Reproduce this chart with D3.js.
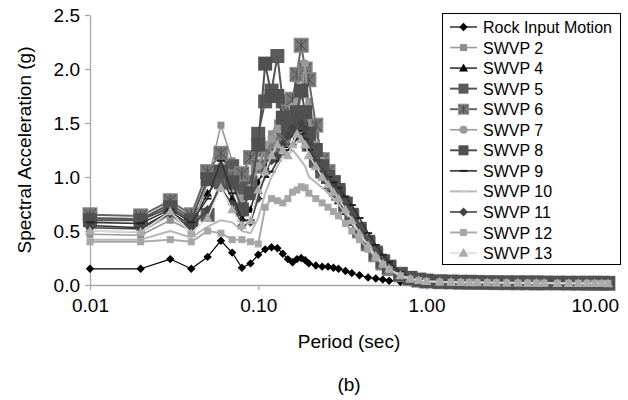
<!DOCTYPE html>
<html>
<head>
<meta charset="utf-8">
<script src="https://cdn.jsdelivr.net/npm/d3@7"></script>
<style>
    body { margin: 0; background: #fff; }
    svg text { font-family: Arial, "Liberation Sans", sans-serif; fill: #000; }
</style>
</head>
<body>
<div id="chart"></div>
<script>

// periods (sec) shared by every series
const periods = [0.01, 0.02, 0.03, 0.04, 0.05, 0.06, 0.07, 0.08, 0.09, 0.10,
    0.11, 0.12, 0.13, 0.14, 0.15, 0.16, 0.17, 0.18, 0.19, 0.20,
    0.22, 0.24, 0.26, 0.28, 0.30, 0.33, 0.36, 0.40, 0.45, 0.50,
    0.55, 0.60, 0.70, 0.80, 0.90, 1.0,
    1.2, 1.4, 1.6, 1.8, 2.0, 2.3, 2.6, 3.0, 3.5, 4.0, 4.5, 5.0, 6.0, 7.0, 8.0, 9.0, 10, 11, 12];

// spectral acceleration (g)
const rockInput = [0.15, 0.15, 0.24, 0.15, 0.26, 0.41, 0.30, 0.16, 0.20, 0.28,
    0.33, 0.35, 0.34, 0.29, 0.24, 0.21, 0.24, 0.25, 0.23, 0.20,
    0.18, 0.17, 0.17, 0.16, 0.15, 0.13, 0.11, 0.09, 0.07, 0.06,
    0.05, 0.04, 0.03, 0.025, 0.02, 0.02,
    0.018, 0.016, 0.015, 0.014, 0.013, 0.012, 0.011, 0.010, 0.010, 0.009, 0.009, 0.008, 0.008, 0.007, 0.007, 0.007, 0.006, 0.006, 0.006];
const swvp2 = [0.47, 0.46, 0.60, 0.50, 0.95, 1.48, 1.15, 0.75, 0.85, 1.10,
    1.25, 1.40, 1.50, 1.55, 1.60, 1.75, 1.90, 2.05, 1.95, 1.70,
    1.40, 1.20, 1.05, 0.95, 0.85, 0.72, 0.62, 0.50, 0.38, 0.28,
    0.21, 0.16, 0.10, 0.065, 0.048, 0.038,
    0.030, 0.028, 0.026, 0.025, 0.024, 0.023, 0.022, 0.021, 0.020, 0.020, 0.019, 0.019, 0.018, 0.018, 0.017, 0.017, 0.017, 0.016, 0.016];
const swvp4 = [0.55, 0.53, 0.68, 0.55, 0.85, 1.00, 0.80, 0.62, 0.70, 0.95,
    1.10, 1.25, 1.30, 1.35, 1.30, 1.40, 1.50, 1.45, 1.35, 1.20,
    1.10, 1.00, 0.92, 0.85, 0.78, 0.68, 0.58, 0.47, 0.36, 0.27,
    0.20, 0.15, 0.09, 0.058, 0.044, 0.035,
    0.029, 0.027, 0.026, 0.025, 0.024, 0.022, 0.021, 0.021, 0.020, 0.019, 0.019, 0.018, 0.018, 0.017, 0.017, 0.017, 0.016, 0.016, 0.016];
const swvp5 = [0.62, 0.61, 0.75, 0.62, 0.65, 0.95, 1.10, 0.90, 0.95, 1.40,
    1.70, 1.80, 2.12, 1.70, 1.55, 1.45, 1.50, 1.60, 1.55, 1.30,
    1.15, 1.05, 1.00, 0.92, 0.85, 0.72, 0.62, 0.50, 0.38, 0.28,
    0.20, 0.15, 0.09, 0.058, 0.044, 0.035,
    0.030, 0.028, 0.027, 0.025, 0.024, 0.023, 0.022, 0.021, 0.021, 0.020, 0.020, 0.019, 0.019, 0.018, 0.018, 0.018, 0.017, 0.017, 0.017];
const swvp6 = [0.65, 0.64, 0.78, 0.65, 1.05, 1.22, 1.00, 1.03, 1.18, 1.10,
    1.25, 1.20, 1.30, 1.35, 1.60, 1.72, 1.95, 2.22, 2.00, 1.90,
    1.48, 1.16, 1.05, 0.95, 0.85, 0.75, 0.63, 0.50, 0.38, 0.28,
    0.21, 0.16, 0.10, 0.062, 0.046, 0.037,
    0.030, 0.028, 0.026, 0.025, 0.024, 0.023, 0.022, 0.021, 0.020, 0.020, 0.019, 0.019, 0.018, 0.018, 0.017, 0.017, 0.017, 0.016, 0.016];
const swvp7 = [0.50, 0.49, 0.65, 0.50, 0.95, 1.10, 0.90, 0.80, 0.90, 1.10,
    1.30, 1.35, 1.45, 1.50, 1.55, 1.65, 1.70, 1.75, 2.05, 1.55,
    1.30, 1.15, 1.00, 0.90, 0.80, 0.70, 0.60, 0.48, 0.36, 0.27,
    0.20, 0.15, 0.09, 0.058, 0.044, 0.035,
    0.029, 0.027, 0.026, 0.024, 0.023, 0.022, 0.021, 0.020, 0.020, 0.019, 0.019, 0.018, 0.018, 0.017, 0.017, 0.016, 0.016, 0.016, 0.015];
const swvp8 = [0.60, 0.60, 0.72, 0.60, 0.98, 1.05, 0.95, 0.70, 0.85, 1.30,
    2.05, 1.75, 1.75, 1.55, 1.45, 1.50, 1.60, 1.80, 1.60, 1.40,
    1.25, 1.10, 1.00, 0.95, 0.88, 0.75, 0.65, 0.52, 0.40, 0.30,
    0.22, 0.17, 0.10, 0.065, 0.048, 0.038,
    0.031, 0.029, 0.027, 0.026, 0.025, 0.023, 0.022, 0.021, 0.021, 0.020, 0.020, 0.019, 0.019, 0.018, 0.018, 0.017, 0.017, 0.017, 0.016];
const swvp9 = [0.58, 0.57, 0.70, 0.58, 0.80, 1.15, 0.85, 0.60, 0.60, 0.85,
    1.00, 1.05, 1.15, 1.20, 1.25, 1.30, 1.35, 1.40, 1.35, 1.25,
    1.15, 1.05, 1.00, 0.95, 0.90, 0.82, 0.74, 0.62, 0.48, 0.37,
    0.28, 0.21, 0.12, 0.075, 0.055, 0.042,
    0.033, 0.030, 0.028, 0.026, 0.025, 0.024, 0.023, 0.022, 0.021, 0.020, 0.020, 0.019, 0.019, 0.018, 0.018, 0.017, 0.017, 0.017, 0.016];
const swvp10 = [0.42, 0.42, 0.50, 0.44, 0.54, 0.60, 0.58, 0.50, 0.48, 0.62,
    0.85, 1.00, 1.10, 1.20, 1.20, 1.25, 1.20, 1.15, 1.10, 1.00,
    0.95, 0.90, 0.85, 0.80, 0.75, 0.67, 0.58, 0.47, 0.36, 0.27,
    0.20, 0.15, 0.09, 0.058, 0.044, 0.035,
    0.029, 0.027, 0.025, 0.024, 0.023, 0.022, 0.021, 0.020, 0.020, 0.019, 0.018, 0.018, 0.017, 0.017, 0.017, 0.016, 0.016, 0.016, 0.015];
const swvp11 = [0.53, 0.52, 0.66, 0.53, 0.70, 0.90, 0.75, 0.55, 0.58, 0.80,
    1.05, 1.15, 1.20, 1.30, 1.38, 1.45, 1.40, 1.50, 1.45, 1.30,
    1.15, 1.05, 0.97, 0.90, 0.83, 0.73, 0.62, 0.50, 0.38, 0.28,
    0.21, 0.16, 0.10, 0.062, 0.046, 0.037,
    0.030, 0.028, 0.026, 0.025, 0.024, 0.023, 0.022, 0.021, 0.020, 0.020, 0.019, 0.019, 0.018, 0.018, 0.017, 0.017, 0.017, 0.016, 0.016];
const swvp12 = [0.40, 0.40, 0.42, 0.40, 0.50, 0.48, 0.42, 0.42, 0.40, 0.38,
    0.72, 0.80, 0.78, 0.76, 0.80, 0.86, 0.88, 0.91, 0.90, 0.85,
    0.80, 0.76, 0.72, 0.68, 0.64, 0.57, 0.50, 0.42, 0.33, 0.25,
    0.19, 0.14, 0.085, 0.055, 0.042, 0.034,
    0.028, 0.026, 0.025, 0.024, 0.023, 0.022, 0.021, 0.020, 0.019, 0.019, 0.018, 0.018, 0.017, 0.017, 0.016, 0.016, 0.016, 0.015, 0.015];
const swvp13 = [0.50, 0.49, 0.68, 0.48, 0.62, 0.90, 0.70, 0.55, 0.60, 0.88,
    1.05, 1.20, 1.30, 1.25, 1.20, 1.30, 1.40, 1.35, 1.30, 1.20,
    1.10, 1.00, 0.93, 0.86, 0.80, 0.70, 0.60, 0.48, 0.37, 0.27,
    0.20, 0.15, 0.09, 0.058, 0.044, 0.035,
    0.029, 0.027, 0.025, 0.024, 0.023, 0.022, 0.021, 0.020, 0.020, 0.019, 0.018, 0.018, 0.017, 0.017, 0.017, 0.016, 0.016, 0.016, 0.015];

const seriesNames = ["Rock Input Motion", "SWVP 2", "SWVP 4", "SWVP 5", "SWVP 6", "SWVP 7",
    "SWVP 8", "SWVP 9", "SWVP 10", "SWVP 11", "SWVP 12", "SWVP 13"];
const seriesValues = [rockInput, swvp2, swvp4, swvp5, swvp6, swvp7,
    swvp8, swvp9, swvp10, swvp11, swvp12, swvp13];

const xTickValues = [0.01, 0.1, 1, 10];
const xTickLabels = ["0.01", "0.10", "1.00", "10.00"];
const yTickValues = [0, 0.5, 1.0, 1.5, 2.0, 2.5];

// line + marker look of each series, same order as seriesNames
const seriesStyles = [
    { line: "#000", width: 1.2, marker: "diamond", size: 4.2, fill: "#000" },
    { line: "#9a9a9a", width: 1.6, marker: "square", size: 7, fill: "#8e8e8e" },
    { line: "#2a2a2a", width: 1.5, marker: "triangle", size: 4.5, fill: "#000" },
    { line: "#555", width: 2, marker: "square", size: 14, fill: "#5a5a5a" },
    { line: "#666", width: 2, marker: "star", size: 14, fill: "#777" },
    { line: "#9a9a9a", width: 1.6, marker: "circle", size: 4, fill: "#9a9a9a" },
    { line: "#505050", width: 2, marker: "square", size: 14, fill: "#505050" },
    { line: "#333", width: 1.6, marker: "dash", size: 4, fill: "#222" },
    { line: "#b8b8b8", width: 2, marker: "none", size: 0, fill: "none" },
    { line: "#444", width: 1.6, marker: "diamond", size: 4.5, fill: "#444" },
    { line: "#ababab", width: 2, marker: "square", size: 7, fill: "#a6a6a6" },
    { line: "#dcdcdc", width: 1.5, marker: "triangle", size: 5, fill: "#ababab" }
];


class SpectraVis {

    constructor(_parentElement) {
        this.parentElement = _parentElement;
        this.initVis();
    }

    initVis() {
        let vis = this;

        vis.width = 628;
        vis.height = 400;

        vis.svg = d3.select("#" + vis.parentElement).append("svg")
            .attr("width", vis.width)
            .attr("height", vis.height);

        // Scales
        vis.x = d3.scaleLog()
            .domain([0.01, 12])
            .range([90, 608]);

        vis.y = d3.scaleLinear()
            .domain([0, 2.5])
            .range([285, 15]);

        vis.xAxis = d3.axisBottom(vis.x)
            .tickValues(xTickValues)
            .tickFormat((d, i) => xTickLabels[i])
            .tickSize(5)
            .tickSizeOuter(0)
            .tickPadding(9);

        vis.yAxis = d3.axisLeft(vis.y)
            .tickValues(yTickValues)
            .tickFormat(d3.format(".1f"))
            .tickSize(5)
            .tickSizeOuter(0)
            .tickPadding(5);

        let gx = vis.svg.append("g")
            .attr("class", "x-axis")
            .attr("transform", "translate(0,285)")
            .call(vis.xAxis);

        let gy = vis.svg.append("g")
            .attr("class", "y-axis")
            .attr("transform", "translate(90,0)")
            .call(vis.yAxis);

        [gx, gy].forEach(g => {
            g.selectAll("path, line").attr("stroke", "#a8a8a8").attr("stroke-width", 1.3);
            g.selectAll("text")
                .style("font-size", "19px")
                .attr("fill", "#000");
        });

        // Axis titles
        vis.svg.append("text")
            .attr("transform", "rotate(-90)")
            .attr("x", -150)
            .attr("y", 31)
            .attr("text-anchor", "middle")
            .style("font-size", "19px")
            .text("Spectral Acceleration (g)");

        vis.svg.append("text")
            .attr("x", 349)
            .attr("y", 348)
            .attr("text-anchor", "middle")
            .style("font-size", "19px")
            .text("Period (sec)");

        vis.svg.append("text")
            .attr("x", 349)
            .attr("y", 391)
            .attr("text-anchor", "middle")
            .style("font-size", "19px")
            .text("(b)");

        vis.wrangleData();
    }

    wrangleData() {
        let vis = this;

        vis.displayData = seriesNames.map((name, i) => ({
            name: name,
            style: seriesStyles[i],
            values: periods.map((p, j) => ({ period: p, value: seriesValues[i][j] }))
        }));

        vis.updateVis();
    }

    // draws one marker centred on 0,0 inside g
    drawMarker(g, s) {
        let r = s.size / 2;
        if (s.marker === "square") {
            g.append("rect")
                .attr("x", -r).attr("y", -r)
                .attr("width", s.size).attr("height", s.size)
                .attr("fill", s.fill);
        } else if (s.marker === "star") {
            g.append("rect")
                .attr("x", -r).attr("y", -r)
                .attr("width", s.size).attr("height", s.size)
                .attr("fill", s.fill)
                .attr("stroke", "#8c8c8c")
                .attr("stroke-width", 1);
            g.append("path")
                .attr("d", `M${-r + 1},${-r + 1}L${r - 1},${r - 1}M${-r + 1},${r - 1}L${r - 1},${-r + 1}M0,${-r + 1}L0,${r - 1}`)
                .attr("stroke", "#4e4e4e")
                .attr("stroke-width", 1);
        } else if (s.marker === "diamond") {
            g.append("path")
                .attr("d", `M0,${-s.size}L${s.size},0L0,${s.size}L${-s.size},0Z`)
                .attr("fill", s.fill);
        } else if (s.marker === "triangle") {
            g.append("path")
                .attr("d", `M0,${-s.size}L${s.size},${s.size * 0.75}L${-s.size},${s.size * 0.75}Z`)
                .attr("fill", s.fill);
        } else if (s.marker === "circle") {
            g.append("circle")
                .attr("r", s.size)
                .attr("fill", s.fill);
        } else if (s.marker === "dash") {
            g.append("line")
                .attr("x1", -s.size).attr("x2", s.size)
                .attr("stroke", s.fill)
                .attr("stroke-width", 2);
        }
    }

    updateVis() {
        let vis = this;

        let line = d3.line()
            .x(d => vis.x(d.period))
            .y(d => vis.y(d.value));

        let groups = vis.svg.selectAll(".series")
            .data(vis.displayData)
            .enter().append("g")
            .attr("class", "series");

        groups.each(function (d) {
            let g = d3.select(this);
            g.append("path")
                .attr("d", line(d.values))
                .attr("fill", "none")
                .attr("stroke", d.style.line)
                .attr("stroke-width", d.style.width)
                .attr("stroke-linejoin", "round");

            d.values.forEach(v => {
                let m = g.append("g")
                    .attr("transform", "translate(" + vis.x(v.period) + "," + vis.y(v.value) + ")");
                vis.drawMarker(m, d.style);
            });
        });

        // Legend
        let legend = vis.svg.append("g").attr("class", "legend");

        legend.append("rect")
            .attr("x", 442.5)
            .attr("y", 13.5)
            .attr("width", 178)
            .attr("height", 251)
            .attr("fill", "#fff")
            .attr("stroke", "#000")
            .attr("stroke-width", 1);

        vis.displayData.forEach((d, i) => {
            let yPos = 27 + i * 20.55;
            let row = legend.append("g").attr("transform", "translate(0," + yPos + ")");

            row.append("line")
                .attr("x1", 450).attr("x2", 477)
                .attr("stroke", d.style.line)
                .attr("stroke-width", d.style.width);

            let legendStyle = Object.assign({}, d.style);
            if (legendStyle.size > 10) legendStyle.size = 10;
            if (legendStyle.marker === "none") legendStyle = { marker: "dash", size: 3, fill: "#c8c8c8" };
            let m = row.append("g").attr("transform", "translate(463.5,0)");
            vis.drawMarker(m, legendStyle);

            row.append("text")
                .attr("x", 483)
                .attr("y", 6)
                .style("font-size", "16px")
                .text(d.name);
        });
    }
}

new SpectraVis("chart");

</script>
</body>
</html>
